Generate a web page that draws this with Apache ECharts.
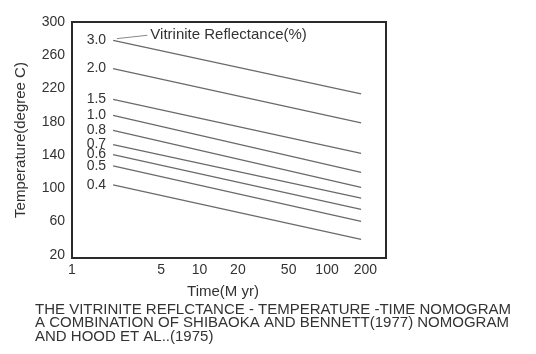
<!DOCTYPE html>
<html lang="en">
<head>
<meta charset="UTF-8">
<title>Vitrinite reflectance nomogram</title>
<script src="https://cdn.jsdelivr.net/npm/echarts@6/dist/echarts.min.js"></script>
<style>
    html, body { margin: 0; padding: 0; background: #fff; }
    #chart { width: 536px; height: 354px; }
</style>
</head>
<body>
<div id="chart"></div>
<script>
    // vitrinite reflectance (%) of each line, top to bottom
    const reflectance = ['3.0', '2.0', '1.5', '1.0', '0.8', '0.7', '0.6', '0.5', '0.4'];
    // time (M yr) at start and end of every line
    const timeSpan = [2.1, 185];
    // temperature (degree C) at the start and end of every line
    const tempStart = [278, 244, 207, 187.5, 169.5, 152.5, 140.5, 127, 104];
    const tempEnd = [213.5, 178.5, 142, 119, 101, 88, 74.5, 60, 38.5];
    const xTicks = [1, 5, 10, 20, 50, 100, 200];
    const yTicks = [20, 60, 100, 140, 180, 220, 260, 300];

    const font = 'Liberation Sans, Arial, sans-serif';
    const textColor = '#333';

    const myChart = echarts.init(document.getElementById('chart'));

    const series = reflectance.map((r, i) => ({
        name: r,
        type: 'line',
        symbol: 'circle',
        symbolSize: 0,
        showSymbol: true,
        silent: true,
        lineStyle: { color: '#6a6a6a', width: 1.3 },
        itemStyle: { color: '#6a6a6a' },
        label: {
            show: false,
            position: 'left',
            distance: 7,
            formatter: '{a}',
            color: textColor,
            fontFamily: font,
            fontSize: 14
        },
        data: [
            { value: [timeSpan[0], tempStart[i]], label: { show: true } },
            [timeSpan[1], tempEnd[i]]
        ]
    }));

    // leader line to the legend text
    series[0].markLine = {
        silent: true,
        symbol: 'none',
        lineStyle: { color: '#888', width: 1, type: 'solid' },
        label: {
            position: 'end',
            distance: 3,
            formatter: 'Vitrinite Reflectance(%)',
            color: textColor,
            fontFamily: font,
            fontSize: 15
        },
        data: [[{ coord: [2.25, 280] }, { coord: [3.9, 284] }]]
    };

    const option = {
        animation: false,
        title: {
            text: 'THE VITRINITE REFLCTANCE - TEMPERATURE -TIME NOMOGRAM\nA COMBINATION OF SHIBAOKA AND BENNETT(1977) NOMOGRAM\nAND HOOD ET AL..(1975)',
            left: 30,
            top: 298,
            textStyle: {
                color: textColor,
                fontFamily: font,
                fontSize: 15,
                fontWeight: 'normal',
                lineHeight: 13.5
            }
        },
        grid: {
            left: 72,
            top: 22,
            width: 314,
            height: 236,
            show: true,
            borderColor: '#2a2a2a',
            borderWidth: 2
        },
        xAxis: {
            type: 'log',
            min: 1,
            max: 290,
            name: 'Time(M yr)',
            nameLocation: 'middle',
            nameGap: 26,
            nameTextStyle: {
                color: textColor,
                fontFamily: font,
                fontSize: 15,
                padding: [0, 12, 0, 0]
            },
            axisLine: { show: false },
            axisTick: { show: false },
            splitLine: { show: false },
            axisLabel: {
                customValues: xTicks,
                formatter: v => String(Math.round(v)),
                margin: 5,
                color: textColor,
                fontFamily: font,
                fontSize: 14
            }
        },
        yAxis: {
            type: 'value',
            min: 16,
            max: 300,
            name: 'Temperature(degree C)',
            nameLocation: 'middle',
            nameGap: 44,
            nameTextStyle: {
                color: textColor,
                fontFamily: font,
                fontSize: 15
            },
            axisLine: { show: false },
            axisTick: { show: false },
            splitLine: { show: false },
            axisLabel: {
                customValues: yTicks,
                margin: 7,
                color: textColor,
                fontFamily: font,
                fontSize: 14
            }
        },
        series: series
    };

    myChart.setOption(option);
</script>
</body>
</html>
